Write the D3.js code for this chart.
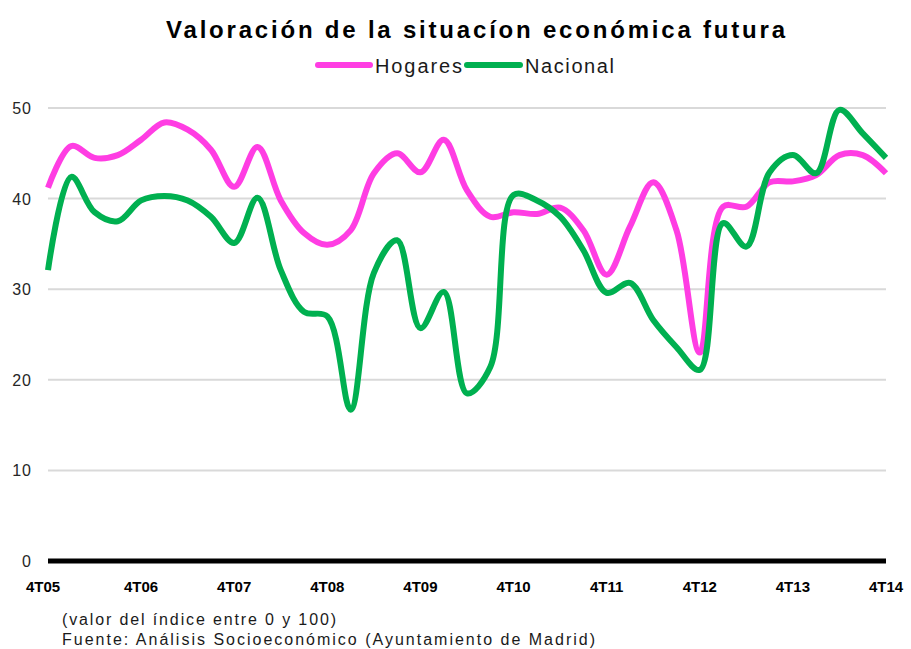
<!DOCTYPE html>
<html>
<head>
<meta charset="utf-8">
<script src="https://cdn.jsdelivr.net/npm/d3@7"></script>
<style>
  body { margin: 0; background: #fff; }
  text { font-family: "Liberation Sans", Arial, sans-serif; }
</style>
</head>
<body>
<svg id="chart"></svg>
<script>
const QUARTERS = ["4T05","1T06","2T06","3T06","4T06","1T07","2T07","3T07","4T07","1T08","2T08","3T08","4T08",
                  "1T09","2T09","3T09","4T09","1T10","2T10","3T10","4T10","1T11","2T11","3T11","4T11",
                  "1T12","2T12","3T12","4T12","1T13","2T13","3T13","4T13","1T14","2T14","3T14","4T14"];

const HOGARES = [41.2,45.8,44.5,44.8,46.5,48.4,47.6,45.4,41.3,45.7,39.8,36.2,34.9,
                 36.5,42.8,45.0,42.9,46.5,40.9,38.0,38.5,38.3,39.0,36.5,31.6,
                 36.9,41.8,36.5,23.0,39.1,39.1,41.8,41.9,42.6,44.8,44.8,42.8];

const NACIONAL = [32.1,42.4,38.5,37.5,39.8,40.3,39.8,38.0,35.1,40.1,32.1,27.5,27.0,
                  16.7,31.8,35.4,25.7,29.7,18.5,21.4,40.4,39.8,38.0,34.3,29.6,
                  30.7,26.6,23.6,21.1,37.3,34.7,42.9,44.8,42.8,49.8,47.2,44.5];

const X_LABELS = ["4T05","4T06","4T07","4T08","4T09","4T10","4T11","4T12","4T13","4T14"];
const Y_TICKS = [0,10,20,30,40,50];

const SERIES = [
  {name: "Hogares", values: HOGARES, color: "#ff3de3"},
  {name: "Nacional", values: NACIONAL, color: "#00b050"}
];

var width = 911, height = 649;
var plotLeft = 48, plotRight = 886;

var svg = d3.select("#chart")
  .attr("width", width)
  .attr("height", height);

var x = d3.scalePoint()
  .domain(QUARTERS)
  .range([plotLeft, plotRight]);

var y = d3.scaleLinear()
  .domain([0, 50])
  .range([561, 108]);

/********* TITLE ***********/
svg.append("text")
  .attr("x", 166)
  .attr("y", 38)
  .attr("textLength", 619)
  .attr("lengthAdjust", "spacing")
  .style("font-size", "24px")
  .style("font-weight", "bold")
  .attr("fill", "#000")
  .text("Valoración de la situacíon económica futura");

/********* LEGEND ***********/
var legendItems = [
  {x1: 318, x2: 370, tx: 375, tw: 87},
  {x1: 467, x2: 520, tx: 525, tw: 89}
];
legendItems.forEach(function(l, i) {
  svg.append("line")
    .attr("x1", l.x1).attr("x2", l.x2)
    .attr("y1", 65).attr("y2", 65)
    .attr("stroke", SERIES[i].color)
    .attr("stroke-width", 6)
    .attr("stroke-linecap", "round");
  svg.append("text")
    .attr("x", l.tx)
    .attr("y", 73)
    .attr("textLength", l.tw)
    .attr("lengthAdjust", "spacing")
    .style("font-size", "20px")
    .attr("fill", "#1a1a1a")
    .text(SERIES[i].name);
});

/********* GRID + Y AXIS ***********/
svg.append("g")
  .selectAll("line")
  .data(Y_TICKS.filter(function(d) { return d > 0; }))
  .enter()
  .append("line")
    .attr("x1", plotLeft).attr("x2", plotRight)
    .attr("y1", function(d) { return y(d); })
    .attr("y2", function(d) { return y(d); })
    .attr("stroke", "#d9d9d9")
    .attr("stroke-width", 2);

svg.append("g")
  .selectAll("text")
  .data(Y_TICKS)
  .enter()
  .append("text")
    .attr("x", 32)
    .attr("y", function(d) { return y(d) + 6; })
    .attr("text-anchor", "end")
    .style("font-size", "16px")
    .style("letter-spacing", "1px")
    .attr("fill", "#262626")
    .text(function(d) { return d; });

/********* LINES ***********/
var line = d3.line()
  .x(function(d, i) { return x(QUARTERS[i]); })
  .y(function(d) { return y(d); })
  .curve(d3.curveCatmullRom.alpha(0.5));

SERIES.forEach(function(s) {
  svg.append("path")
    .datum(s.values)
    .attr("d", line)
    .attr("fill", "none")
    .attr("stroke", s.color)
    .attr("stroke-width", 6)
    .attr("stroke-linejoin", "round");
});

/********* X AXIS ***********/
svg.append("line")
  .attr("x1", plotLeft).attr("x2", plotRight)
  .attr("y1", y(0)).attr("y2", y(0))
  .attr("stroke", "#000")
  .attr("stroke-width", 5);

svg.append("g")
  .selectAll("text")
  .data(X_LABELS)
  .enter()
  .append("text")
    .attr("x", function(d, i) { return i === 0 ? x(d) - 5 : x(d); })
    .attr("y", 592)
    .attr("text-anchor", "middle")
    .style("font-size", "15px")
    .style("font-weight", "bold")
    .attr("fill", "#000")
    .text(function(d) { return d; });

/********* FOOTNOTES ***********/
svg.append("text")
  .attr("x", 62).attr("y", 625)
  .attr("textLength", 274)
  .attr("lengthAdjust", "spacing")
  .style("font-size", "16px")
  .attr("fill", "#1a1a1a")
  .text("(valor del índice entre 0 y 100)");

svg.append("text")
  .attr("x", 62).attr("y", 645)
  .attr("textLength", 533)
  .attr("lengthAdjust", "spacing")
  .style("font-size", "16px")
  .attr("fill", "#1a1a1a")
  .text("Fuente: Análisis Socioeconómico (Ayuntamiento de Madrid)");
</script>
</body>
</html>
